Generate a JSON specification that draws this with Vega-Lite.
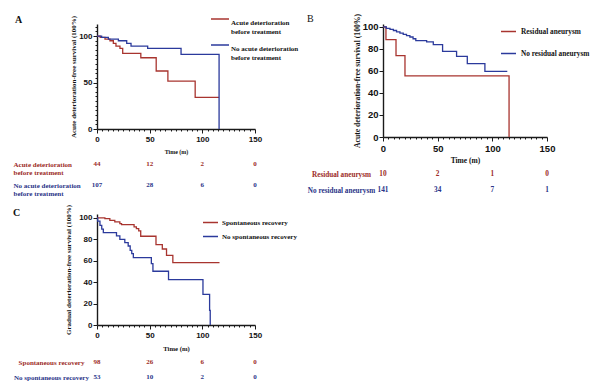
{
  "$schema": "https://vega.github.io/schema/vega-lite/v6.json",
  "padding": {"left": 13, "top": 9, "right": 5, "bottom": 5},
  "background": "white",
  "bounds": "flush",
  "align": "each",
  "columns": 2,
  "spacing": {"row": 10, "column": 128},
  "config": {
    "view": {"stroke": null},
    "axis": {"grid": false, "domainColor": "#1a1a1a", "domainWidth": 1.4, "tickColor": "#1a1a1a", "tickWidth": 1, "labelFont": "Liberation Sans", "labelFontWeight": "bold", "labelColor": "#111111", "titleFont": "Liberation Serif", "titleFontWeight": "bold", "titleColor": "#111111", "labelOverlap": false, "labelFlush": false},
    "legend": {"labelFont": "Liberation Serif", "labelFontWeight": "bold", "labelColor": "#111111"},
    "title": {"font": "Liberation Serif", "fontWeight": "bold", "color": "#111111"}
  },
  "datasets": {
    "kmA": [
      {"g": "Acute deterioration before treatment", "t": 0, "s": 100},
      {"g": "Acute deterioration before treatment", "t": 3, "s": 98.5},
      {"g": "Acute deterioration before treatment", "t": 7.6, "s": 96.8},
      {"g": "Acute deterioration before treatment", "t": 12.3, "s": 95},
      {"g": "Acute deterioration before treatment", "t": 15.5, "s": 92.1},
      {"g": "Acute deterioration before treatment", "t": 18, "s": 89.2},
      {"g": "Acute deterioration before treatment", "t": 21.8, "s": 86.7},
      {"g": "Acute deterioration before treatment", "t": 24.4, "s": 81.4},
      {"g": "Acute deterioration before treatment", "t": 41.6, "s": 76.7},
      {"g": "Acute deterioration before treatment", "t": 56.2, "s": 62.4},
      {"g": "Acute deterioration before treatment", "t": 67.3, "s": 51.6},
      {"g": "Acute deterioration before treatment", "t": 93.2, "s": 34.1},
      {"g": "Acute deterioration before treatment", "t": 115.9, "s": 34.1},
      {"g": "No acute deterioration before treatment", "t": 0, "s": 100},
      {"g": "No acute deterioration before treatment", "t": 4.4, "s": 98.6},
      {"g": "No acute deterioration before treatment", "t": 10.8, "s": 96.8},
      {"g": "No acute deterioration before treatment", "t": 20.3, "s": 95},
      {"g": "No acute deterioration before treatment", "t": 28.2, "s": 92.1},
      {"g": "No acute deterioration before treatment", "t": 32.3, "s": 89.2},
      {"g": "No acute deterioration before treatment", "t": 48.1, "s": 86.7},
      {"g": "No acute deterioration before treatment", "t": 79.8, "s": 80.3},
      {"g": "No acute deterioration before treatment", "t": 115.9, "s": 80.3},
      {"g": "No acute deterioration before treatment", "t": 115.9, "s": 0}
    ],
    "kmB": [
      {"g": "Residual aneurysm", "t": 0, "s": 100},
      {"g": "Residual aneurysm", "t": 2.7, "s": 88.5},
      {"g": "Residual aneurysm", "t": 11.9, "s": 73.9},
      {"g": "Residual aneurysm", "t": 20.1, "s": 55.5},
      {"g": "Residual aneurysm", "t": 115.3, "s": 55.5},
      {"g": "Residual aneurysm", "t": 115.3, "s": 0},
      {"g": "No residual aneurysm", "t": 0, "s": 100},
      {"g": "No residual aneurysm", "t": 3, "s": 98.8},
      {"g": "No residual aneurysm", "t": 6.4, "s": 97.9},
      {"g": "No residual aneurysm", "t": 9.5, "s": 96.8},
      {"g": "No residual aneurysm", "t": 12.4, "s": 95.5},
      {"g": "No residual aneurysm", "t": 15.5, "s": 94.4},
      {"g": "No residual aneurysm", "t": 18.5, "s": 93.3},
      {"g": "No residual aneurysm", "t": 21.5, "s": 92.1},
      {"g": "No residual aneurysm", "t": 24.6, "s": 90.9},
      {"g": "No residual aneurysm", "t": 27.5, "s": 89.3},
      {"g": "No residual aneurysm", "t": 30, "s": 87.6},
      {"g": "No residual aneurysm", "t": 39.9, "s": 86.4},
      {"g": "No residual aneurysm", "t": 46, "s": 83.9},
      {"g": "No residual aneurysm", "t": 54.5, "s": 77.9},
      {"g": "No residual aneurysm", "t": 67.3, "s": 73.3},
      {"g": "No residual aneurysm", "t": 77.1, "s": 66.7},
      {"g": "No residual aneurysm", "t": 93.2, "s": 59.7},
      {"g": "No residual aneurysm", "t": 113.7, "s": 59.7}
    ],
    "kmC": [
      {"g": "Spontaneous recovery", "t": 0, "s": 100},
      {"g": "Spontaneous recovery", "t": 7.5, "s": 99.4},
      {"g": "Spontaneous recovery", "t": 12.2, "s": 97.8},
      {"g": "Spontaneous recovery", "t": 16.9, "s": 96.3},
      {"g": "Spontaneous recovery", "t": 21.7, "s": 94.7},
      {"g": "Spontaneous recovery", "t": 23.3, "s": 93.8},
      {"g": "Spontaneous recovery", "t": 35.2, "s": 91.6},
      {"g": "Spontaneous recovery", "t": 37.4, "s": 90},
      {"g": "Spontaneous recovery", "t": 39.6, "s": 87.9},
      {"g": "Spontaneous recovery", "t": 41.5, "s": 82.9},
      {"g": "Spontaneous recovery", "t": 56, "s": 75},
      {"g": "Spontaneous recovery", "t": 62, "s": 71},
      {"g": "Spontaneous recovery", "t": 66, "s": 65},
      {"g": "Spontaneous recovery", "t": 72, "s": 58.2},
      {"g": "Spontaneous recovery", "t": 116.3, "s": 58.2},
      {"g": "No spontaneous recovery", "t": 0, "s": 100},
      {"g": "No spontaneous recovery", "t": 0.6, "s": 97},
      {"g": "No spontaneous recovery", "t": 2.8, "s": 93},
      {"g": "No spontaneous recovery", "t": 4.5, "s": 89.5},
      {"g": "No spontaneous recovery", "t": 6, "s": 86.3},
      {"g": "No spontaneous recovery", "t": 18.5, "s": 83.2},
      {"g": "No spontaneous recovery", "t": 21.7, "s": 80},
      {"g": "No spontaneous recovery", "t": 26.4, "s": 77},
      {"g": "No spontaneous recovery", "t": 29.6, "s": 73.8},
      {"g": "No spontaneous recovery", "t": 31.5, "s": 69.8},
      {"g": "No spontaneous recovery", "t": 33, "s": 66.6},
      {"g": "No spontaneous recovery", "t": 34.5, "s": 62.9},
      {"g": "No spontaneous recovery", "t": 51.6, "s": 57.3},
      {"g": "No spontaneous recovery", "t": 53.1, "s": 50.2},
      {"g": "No spontaneous recovery", "t": 67.9, "s": 42.3},
      {"g": "No spontaneous recovery", "t": 100.6, "s": 28.7},
      {"g": "No spontaneous recovery", "t": 106.9, "s": 13.7},
      {"g": "No spontaneous recovery", "t": 107.5, "s": 0}
    ],
    "tabA": [
      {"g": "Acute deterioration before treatment", "t": 0, "n": 44},
      {"g": "Acute deterioration before treatment", "t": 50, "n": 12},
      {"g": "Acute deterioration before treatment", "t": 100, "n": 2},
      {"g": "Acute deterioration before treatment", "t": 150, "n": 0},
      {"g": "No acute deterioration before treatment", "t": 0, "n": 107},
      {"g": "No acute deterioration before treatment", "t": 50, "n": 28},
      {"g": "No acute deterioration before treatment", "t": 100, "n": 6},
      {"g": "No acute deterioration before treatment", "t": 150, "n": 0}
    ],
    "tabB": [
      {"g": "Residual aneurysm", "t": 0, "n": 10},
      {"g": "Residual aneurysm", "t": 50, "n": 2},
      {"g": "Residual aneurysm", "t": 100, "n": 1},
      {"g": "Residual aneurysm", "t": 150, "n": 0},
      {"g": "No residual aneurysm", "t": 0, "n": 141},
      {"g": "No residual aneurysm", "t": 50, "n": 34},
      {"g": "No residual aneurysm", "t": 100, "n": 7},
      {"g": "No residual aneurysm", "t": 150, "n": 1}
    ],
    "tabC": [
      {"g": "Spontaneous recovery", "t": 0, "n": 98},
      {"g": "Spontaneous recovery", "t": 50, "n": 26},
      {"g": "Spontaneous recovery", "t": 100, "n": 6},
      {"g": "Spontaneous recovery", "t": 150, "n": 0},
      {"g": "No spontaneous recovery", "t": 0, "n": 53},
      {"g": "No spontaneous recovery", "t": 50, "n": 10},
      {"g": "No spontaneous recovery", "t": 100, "n": 2},
      {"g": "No spontaneous recovery", "t": 150, "n": 0}
    ]
  },
  "resolve": {"scale": {"color": "independent", "x": "independent", "y": "independent"}, "legend": {"color": "independent"}},
  "concat": [
    {
      "width": 158, "height": 105,
      "data": {"name": "kmA"},
      "title": {"text": "A", "anchor": "start", "frame": "group", "dx": -82, "dy": 20.5, "offset": 0, "baseline": "middle", "fontSize": 10},
      "mark": {"type": "line", "interpolate": "step-after", "strokeWidth": 1.3},
      "encoding": {
        "x": {"field": "t", "type": "quantitative", "scale": {"domain": [0, 150], "nice": false, "zero": false},
          "axis": {"values": [0,5,10,15,20,25,30,35,40,45,50,55,60,65,70,75,80,85,90,95,100,105,110,115,120,125,130,135,140,145,150], "labelExpr": "datum.value % 50 === 0 ? datum.label : ''", "tickSize": {"condition": {"test": "datum.value % 50 === 0", "value": 4}, "value": 2}, "labelFontSize": 8, "labelPadding": 2, "title": "Time (m)", "titleFontSize": 6, "titleY": 22, "titleBaseline": "middle"}},
        "y": {"field": "s", "type": "quantitative", "scale": {"domain": [0, 113], "nice": false},
          "axis": {"values": [0,5,10,15,20,25,30,35,40,45,50,55,60,65,70,75,80,85,90,95,100,105,110], "labelExpr": "datum.value % 50 === 0 ? datum.label : ''", "tickSize": {"condition": {"test": "datum.value % 50 === 0", "value": 4}, "value": 2}, "labelFontSize": 8, "labelPadding": 1, "title": "Acute deterioration-free survival (100%)", "titleFontSize": 7, "titleX": -24, "titleBaseline": "middle"}},
        "color": {"field": "g", "type": "nominal", "scale": {"domain": ["Acute deterioration before treatment", "No acute deterioration before treatment"], "range": ["#a8342f", "#2b3a9c"]},
          "legend": {"orient": "none", "legendX": 113, "legendY": -15, "title": null, "symbolType": "stroke", "symbolSize": 324, "symbolStrokeWidth": 1.5, "labelFontSize": 7, "labelOffset": 1, "labelBaseline": "top", "rowPadding": 0, "labelExpr": "split(replace(datum.label, ' before ', '|before '), '|')"}},
        "order": [{"field": "t", "type": "quantitative"}, {"field": "s", "type": "quantitative", "sort": "descending"}]
      }
    },
    {
      "width": 164, "height": 113,
      "data": {"name": "kmB"},
      "title": {"text": "B", "anchor": "start", "frame": "group", "dx": -76, "dy": 15.5, "offset": 0, "baseline": "middle", "fontSize": 10, "fontWeight": "normal"},
      "mark": {"type": "line", "interpolate": "step-after", "strokeWidth": 1.3},
      "encoding": {
        "x": {"field": "t", "type": "quantitative", "scale": {"domain": [0, 150], "nice": false, "zero": false},
          "axis": {"values": [0,5,10,15,20,25,30,35,40,45,50,55,60,65,70,75,80,85,90,95,100,105,110,115,120,125,130,135,140,145,150], "labelExpr": "datum.value % 50 === 0 ? datum.label : ''", "tickSize": {"condition": {"test": "datum.value % 50 === 0", "value": 4}, "value": 2}, "labelFontSize": 9.5, "labelPadding": 2, "title": "Time (m)", "titleFontSize": 7.5, "titleY": 23, "titleBaseline": "middle"}},
        "y": {"field": "s", "type": "quantitative", "scale": {"domain": [0, 102.7], "nice": false},
          "axis": {"values": [0, 20, 40, 60, 80, 100], "tickSize": 4, "labelFontSize": 9.5, "labelPadding": 1, "title": "Acute deterioration-free survival (100%)", "titleFontSize": 7.7, "titleX": -26, "titleBaseline": "middle"}},
        "color": {"field": "g", "type": "nominal", "scale": {"domain": ["Residual aneurysm", "No residual aneurysm"], "range": ["#a8342f", "#2b3a9c"]},
          "legend": {"orient": "none", "legendX": 117, "legendY": -1, "title": null, "symbolType": "stroke", "symbolSize": 225, "symbolStrokeWidth": 1.5, "labelFontSize": 7.3, "labelOffset": 4, "rowPadding": 10}},
        "order": [{"field": "t", "type": "quantitative"}, {"field": "s", "type": "quantitative", "sort": "descending"}]
      }
    },
    {
      "width": 158, "height": 57,
      "data": {"name": "tabA"},
      "mark": {"type": "text", "fontSize": 7, "fontWeight": "bold", "font": "Liberation Serif"},
      "encoding": {
        "x": {"field": "t", "type": "quantitative", "scale": {"domain": [0, 150], "nice": false, "zero": false}, "axis": null},
        "y": {"field": "g", "type": "nominal", "sort": ["Acute deterioration before treatment", "No acute deterioration before treatment"], "scale": {"type": "point", "padding": 0, "range": [17, 38]},
          "axis": {"title": null, "domain": false, "ticks": false, "tickSize": 0, "labelAlign": "left", "labelPadding": 84, "labelFont": "Liberation Serif", "labelFontSize": 7, "labelLineHeight": 8, "labelExpr": "split(replace(datum.label, ' before ', '|before '), '|')", "labelColor": {"condition": {"test": "indexof(datum.value, 'No ') === 0", "value": "#2a3488"}, "value": "#9c2b26"}}},
        "text": {"field": "n", "type": "quantitative"},
        "color": {"field": "g", "type": "nominal", "scale": {"domain": ["Acute deterioration before treatment", "No acute deterioration before treatment"], "range": ["#9c2b26", "#2a3488"]}, "legend": null}
      }
    },
    {
      "width": 164, "height": 57,
      "data": {"name": "tabB"},
      "mark": {"type": "text", "fontSize": 7.3, "fontWeight": "bold", "font": "Liberation Serif"},
      "encoding": {
        "x": {"field": "t", "type": "quantitative", "scale": {"domain": [0, 150], "nice": false, "zero": false}, "axis": null},
        "y": {"field": "g", "type": "nominal", "sort": ["Residual aneurysm", "No residual aneurysm"], "scale": {"type": "point", "padding": 0, "range": [27, 43]},
          "axis": {"title": null, "domain": false, "ticks": false, "tickSize": 0, "labelAlign": "center", "labelPadding": 42, "labelFont": "Liberation Serif", "labelFontSize": 7.2, "labelColor": {"condition": {"test": "indexof(datum.value, 'No ') === 0", "value": "#2a3488"}, "value": "#9c2b26"}}},
        "text": {"field": "n", "type": "quantitative"},
        "color": {"field": "g", "type": "nominal", "scale": {"domain": ["Residual aneurysm", "No residual aneurysm"], "range": ["#9c2b26", "#2a3488"]}, "legend": null}
      }
    },
    {
      "width": 158, "height": 111,
      "data": {"name": "kmC"},
      "title": {"text": "C", "anchor": "start", "frame": "group", "dx": -84, "dy": 18.2, "offset": 0, "baseline": "middle", "fontSize": 10},
      "mark": {"type": "line", "interpolate": "step-after", "strokeWidth": 1.3},
      "encoding": {
        "x": {"field": "t", "type": "quantitative", "scale": {"domain": [0, 150], "nice": false, "zero": false},
          "axis": {"values": [0,5,10,15,20,25,30,35,40,45,50,55,60,65,70,75,80,85,90,95,100,105,110,115,120,125,130,135,140,145,150], "labelExpr": "datum.value % 50 === 0 ? datum.label : ''", "tickSize": {"condition": {"test": "datum.value % 50 === 0", "value": 4}, "value": 2}, "labelFontSize": 8, "labelPadding": 2, "title": "Time (m)", "titleFontSize": 6.7, "titleY": 23, "titleBaseline": "middle"}},
        "y": {"field": "s", "type": "quantitative", "scale": {"domain": [0, 103.7], "nice": false},
          "axis": {"values": [0, 20, 40, 60, 80, 100], "tickSize": 4, "labelFontSize": 8, "labelPadding": 1, "title": "Gradual deterioration-free survival (100%)", "titleFontSize": 7, "titleX": -28.5, "titleBaseline": "middle"}},
        "color": {"field": "g", "type": "nominal", "scale": {"domain": ["Spontaneous recovery", "No spontaneous recovery"], "range": ["#a8342f", "#2b3a9c"]},
          "legend": {"orient": "none", "legendX": 105, "legendY": 0, "title": null, "symbolType": "stroke", "symbolSize": 225, "symbolStrokeWidth": 1.5, "labelFontSize": 7, "labelOffset": 3, "rowPadding": 2}},
        "order": [{"field": "t", "type": "quantitative"}, {"field": "s", "type": "quantitative", "sort": "descending"}]
      }
    },
    {
      "width": 10, "height": 10,
      "data": {"values": []},
      "mark": {"type": "point", "opacity": 0},
      "encoding": {}
    },
    {
      "width": 158, "height": 50,
      "data": {"name": "tabC"},
      "mark": {"type": "text", "fontSize": 7, "fontWeight": "bold", "font": "Liberation Serif"},
      "encoding": {
        "x": {"field": "t", "type": "quantitative", "scale": {"domain": [0, 150], "nice": false, "zero": false}, "axis": null},
        "y": {"field": "g", "type": "nominal", "sort": ["Spontaneous recovery", "No spontaneous recovery"], "scale": {"type": "point", "padding": 0, "range": [27, 42]},
          "axis": {"title": null, "domain": false, "ticks": false, "tickSize": 0, "labelAlign": "center", "labelPadding": 46, "labelFont": "Liberation Serif", "labelFontSize": 7, "labelColor": {"condition": {"test": "indexof(datum.value, 'No ') === 0", "value": "#2a3488"}, "value": "#9c2b26"}}},
        "text": {"field": "n", "type": "quantitative"},
        "color": {"field": "g", "type": "nominal", "scale": {"domain": ["Spontaneous recovery", "No spontaneous recovery"], "range": ["#9c2b26", "#2a3488"]}, "legend": null}
      }
    }
  ]
}
